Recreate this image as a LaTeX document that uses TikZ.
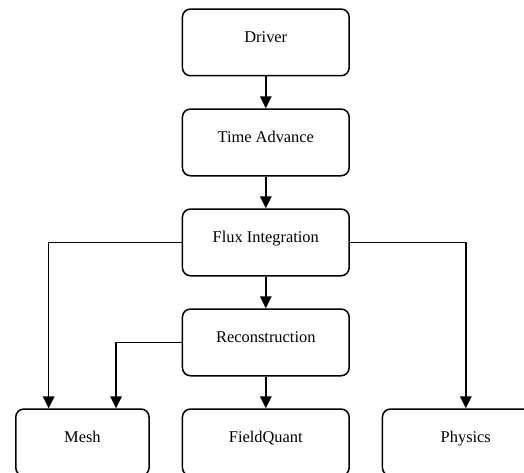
\documentclass[tikz,border=0pt]{standalone}
\usepackage{fontspec}
\setmainfont{Liberation Serif}
\usetikzlibrary{arrows.meta,calc}
\begin{document}
\begin{tikzpicture}[x=1pt,y=-1pt,
  box/.style={draw, rounded corners=8pt, line width=1.5pt, minimum width=166.7pt,
    minimum height=66.7pt, anchor=north west, inner sep=0pt,
    font=\fontsize{16.4}{19}\selectfont, text height=6pt, text depth=6pt},
  conn/.style={line width=1.5pt, -{Triangle[length=12pt,width=11.5pt]}}]
\useasboundingbox (0,0) rectangle (524,473);
\clip (0,0) rectangle (524,473);
\node[box] (driver) at (181.7,8.3) {Driver};
\node[box] (time) at (181.7,108.3) {Time Advance};
\node[box] (flux) at (181.7,208.3) {Flux Integration};
\node[box] (recon) at (181.7,308.3) {Reconstruction};
\node[box, minimum width=133.3pt] (mesh) at (15,408.3) {Mesh};
\node[box] (field) at (181.7,408.3) {FieldQuant};
\node[box] (phys) at (381.7,408.3) {Physics};
\coordinate (meshA) at ($(mesh.north west)!0.25!(mesh.north east)$);
\coordinate (meshB) at ($(mesh.north west)!0.75!(mesh.north east)$);
\draw[conn] (driver) -- (time);
\draw[conn] (time) -- (flux);
\draw[conn] (flux) -- (recon);
\draw[conn] (recon) -- (field);
\draw[conn] (flux.west) -| (meshA);
\draw[conn] (flux.east) -| (phys.north);
\draw[conn] (recon.west) -| (meshB);
\end{tikzpicture}
\end{document}
